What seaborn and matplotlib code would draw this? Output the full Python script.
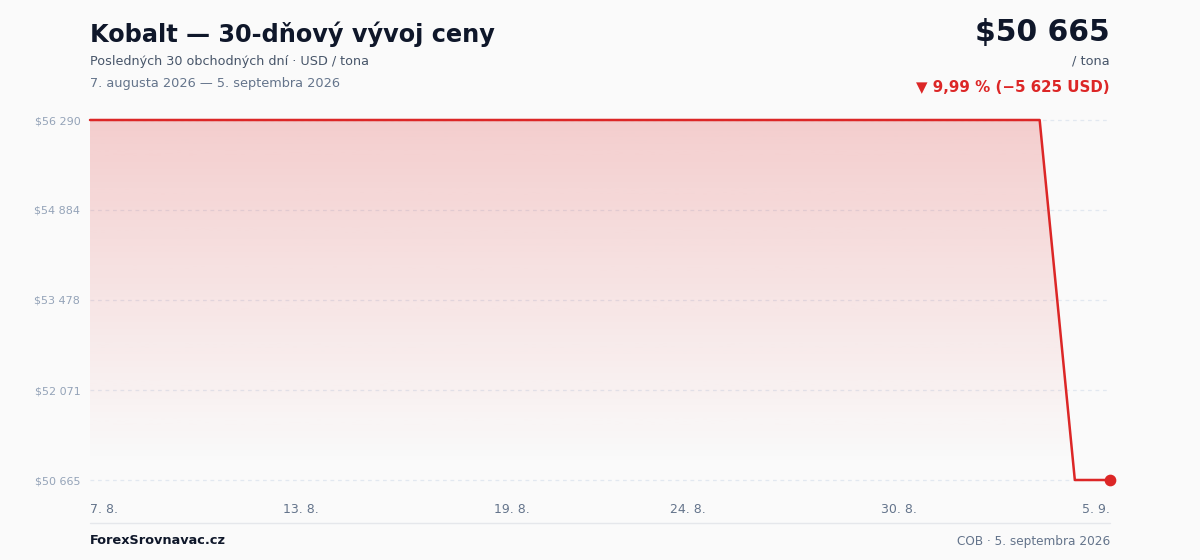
import numpy as np
import pandas as pd
import matplotlib
matplotlib.use("Agg")
import matplotlib.pyplot as plt
import seaborn as sns
from matplotlib.colors import to_rgb

# Data
days = pd.date_range("2026-08-07", "2026-09-05", freq="D")
prices = [56290] * 28 + [50665] * 2
tick_idx = [0, 6, 12, 17, 23, 29]
tick_labels = ["7. 8.", "13. 8.", "19. 8.", "24. 8.", "30. 8.", "5. 9."]
y_ticks = [50665, 52071, 53478, 54884, 56290]
y_labels = ["$50 665", "$52 071", "$53 478", "$54 884", "$56 290"]

BG = "#fafafa"
RED = "#dc2626"
DARK = "#0f172a"
MUTED = "#475569"
SOFT = "#64748b"
FAINT = "#94a3b8"

sns.set_theme(style="white")
plt.rcParams["font.family"] = ["DejaVu Sans"]

df = pd.DataFrame({"idx": np.arange(len(prices)), "price": prices, "day": days})

fig = plt.figure(figsize=(12, 5.6), dpi=100, facecolor=BG)
ax = fig.add_axes([0.075, 0.142857, 0.85, 0.642857])
ax.set_facecolor(BG)

# gradient fill under the line
ymin, ymax = min(y_ticks), max(y_ticks)
rgb = np.array(to_rgb(RED))
grad = np.zeros((256, 1, 4))
grad[:, :, :3] = rgb
grad[:, 0, 3] = np.clip(np.linspace(0.21, -0.01, 256), 0, None)
poly = ax.fill_between(df["idx"], df["price"], ymin, color="none", lw=0)
img = ax.imshow(grad, aspect="auto", extent=[0, len(prices) - 1, ymin, ymax],
                origin="upper", zorder=1)
img.set_clip_path(poly.get_paths()[0], transform=ax.transData)

for yv in y_ticks:
    ax.axhline(yv, color="#e2e8f0", lw=0.9, ls=(0, (3, 3)), zorder=0.5)

sns.lineplot(data=df, x="idx", y="price", ax=ax, color=RED, lw=1.8, zorder=3)
for ln in ax.lines:
    ln.set_clip_on(False)
ax.scatter([df["idx"].iloc[-1]], [df["price"].iloc[-1]], s=55, color=RED,
           zorder=4, clip_on=False)

ax.set_xlim(0, len(prices) - 1)
ax.set_ylim(ymin, ymax)
ax.set_yticks(y_ticks)
ax.set_yticklabels(y_labels, fontsize=8, color=FAINT)
ax.set_xticks([])
ax.tick_params(axis="y", length=0, pad=7)
ax.set_xlabel("")
ax.set_ylabel("")
for s in ax.spines.values():
    s.set_visible(False)

for i, (ti, tl) in enumerate(zip(tick_idx, tick_labels)):
    ha = "left" if i == 0 else ("right" if i == len(tick_idx) - 1 else "center")
    ax.annotate(tl, (ti, ymin), xytext=(0, -21), textcoords="offset points",
                ha=ha, va="center", fontsize=9, color=SOFT, annotation_clip=False)

# header
fig.text(0.075, 1 - 34 / 560, "Kobalt — 30-dňový vývoj ceny", fontsize=17.3,
         fontweight="bold", color=DARK, va="center")
fig.text(0.075, 1 - 61 / 560, "Posledných 30 obchodných dní · USD / tona",
         fontsize=9.2, color=MUTED, va="center")
fig.text(0.075, 1 - 83 / 560, "7. augusta 2026 — 5. septembra 2026",
         fontsize=9.3, color=SOFT, va="center")

last, first = prices[-1], prices[0]
diff = last - first
pct = diff / first * 100
fig.text(0.925, 1 - 32 / 560, f"${last:,}".replace(",", " "), fontsize=21.5,
         fontweight="bold", color=DARK, ha="right", va="center")
fig.text(0.925, 1 - 61 / 560, "/ tona", fontsize=9.3, color=MUTED,
         ha="right", va="center")
change = f"▼ {abs(pct):.2f} % (−{abs(diff):,} USD)".replace(",", " ").replace(".", ",")
fig.text(0.925, 1 - 87 / 560, change, fontsize=10.8, fontweight="bold",
         color=RED, ha="right", va="center")

# footer
fig.add_artist(plt.Line2D([0.075, 0.925], [1 - 523 / 560] * 2, color="#e5e7eb",
                          lw=1, transform=fig.transFigure))
fig.text(0.075, 1 - 541 / 560, "ForexSrovnavac.cz", fontsize=9.3,
         fontweight="bold", color=DARK, va="center")
fig.text(0.925, 1 - 541 / 560, "COB · 5. septembra 2026", fontsize=8.7,
         color=SOFT, ha="right", va="center")

fig.savefig("out.png", dpi=100, facecolor=BG)
